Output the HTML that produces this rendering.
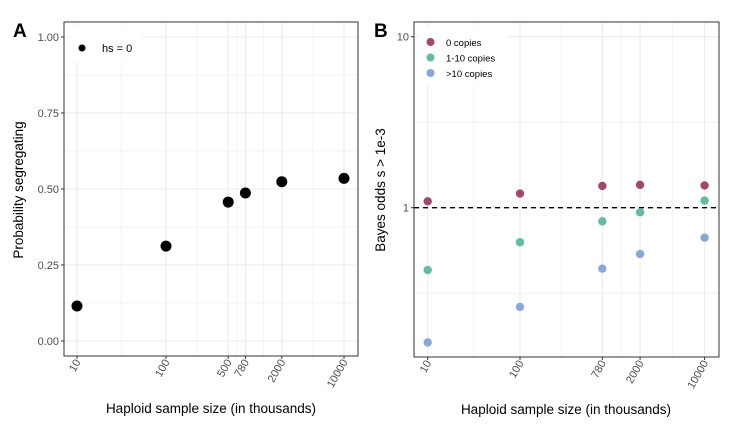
<!DOCTYPE html>
<html><head><meta charset="utf-8"><style>
body{margin:0;background:#fff;}
svg{display:block;font-family:"Liberation Sans",Arial,sans-serif;}
</style></head><body>
<svg id="chart" width="733" height="435" viewBox="0 0 733 435" xmlns="http://www.w3.org/2000/svg">
<g id="pa"></g>
<g id="pb"></g>
</svg>
<script>
const NS="http://www.w3.org/2000/svg";
// Panel A data
const catsA=[10,100,500,780,2000,10000];
const valsA=[0.115,0.312,0.457,0.487,0.524,0.535];
const yTicksA=[0,0.25,0.5,0.75,1];
const yTickLabelsA=["0.00","0.25","0.50","0.75","1.00"];
// Panel B data
const catsB=[10,100,780,2000,10000];
const zeroCopies=[1.09,1.21,1.34,1.36,1.35];
const oneToTen=[0.432,0.628,0.832,0.94,1.10];
const overTen=[0.163,0.263,0.44,0.536,0.668];
const seriesNamesB=["0 copies","1-10 copies",">10 copies"];
const yTicksB=[1,10];

function el(parent,tag,attrs,text){const e=document.createElementNS(NS,tag);for(const k in attrs)e.setAttribute(k,attrs[k]);if(text!==undefined)e.textContent=text;parent.appendChild(e);return e;}
function minorBreaks(vals){const out=[];for(let i=0;i<vals.length-1;i++)out.push((vals[i]+vals[i+1])/2);return out;}

// ---------- Panel A ----------
(function(){
const g=document.getElementById('pa');
const L=64,R=358,T=22,B=356;
const x=v=>77+(Math.log10(v)-1)*89;
const y=v=>341-v*304;
const bg=el(g,'rect',{x:L,y:T,width:R-L,height:B-T,fill:'#fff'});

const lx=catsA.map(c=>Math.log10(c));
minorBreaks(lx).forEach(m=>{const p=x(Math.pow(10,m));el(g,'line',{x1:p,x2:p,y1:T,y2:B,stroke:'#ebebeb','stroke-width':0.6});});
minorBreaks(yTicksA).forEach(m=>{el(g,'line',{x1:L,x2:R,y1:y(m),y2:y(m),stroke:'#ebebeb','stroke-width':0.6});});
catsA.forEach(c=>{el(g,'line',{x1:x(c),x2:x(c),y1:T,y2:B,stroke:'#ebebeb','stroke-width':1.1});});
yTicksA.forEach((t,i)=>{el(g,'line',{x1:L,x2:R,y1:y(t),y2:y(t),stroke:'#ebebeb','stroke-width':1.1});
 el(g,'line',{x1:L-3,x2:L,y1:y(t),y2:y(t),stroke:'#333','stroke-width':1});
 const tl=el(g,'text',{x:L-5,y:y(t)+4,'text-anchor':'end','font-size':11,fill:'#4d4d4d'},yTickLabelsA[i]);
 });
catsA.forEach(c=>{el(g,'line',{x1:x(c),x2:x(c),y1:B,y2:B+3,stroke:'#333','stroke-width':1});
 const tl=el(g,'text',{transform:`translate(${x(c)+4},${B+6}) rotate(-60)`,'text-anchor':'end','font-size':11,fill:'#4d4d4d'},String(c));
 });
// legend box
const lg=el(g,'g',{});
el(lg,'rect',{x:70,y:26,width:72,height:36,fill:'#fff'});
el(lg,'circle',{cx:82,cy:48,r:3.5,fill:'#000'});
el(lg,'text',{x:102,y:52,'font-size':11,fill:'#000'},'hs = 0');
catsA.forEach((c,i)=>{const p=el(g,'circle',{cx:x(c),cy:y(valsA[i]),r:5.5,fill:'#000'});
 });
el(g,'rect',{x:L,y:T,width:R-L,height:B-T,fill:'none',stroke:'#333','stroke-width':1});
const xt=el(g,'text',{x:211,y:413,'text-anchor':'middle','font-size':13.5,fill:'#000'},'Haploid sample size (in thousands)');

const yt=el(g,'text',{transform:'translate(23,190) rotate(-90)','text-anchor':'middle','font-size':13.5,fill:'#000'},'Probability segregating');

const tag=el(g,'text',{x:13,y:37,'font-size':19,'font-weight':'bold',fill:'#000'},'A');

})();

// ---------- Panel B ----------
(function(){
const g=document.getElementById('pb');
const L=414,R=719,T=22,B=357;
const x=v=>427.7+(Math.log10(v)-1)*92.3;
const y=v=>207.7-Math.log10(v)*171;
const colors=['#a3476f','#62bba5','#86a8d9'];
const series=[zeroCopies,oneToTen,overTen];
el(g,'rect',{x:L,y:T,width:R-L,height:B-T,fill:'#fff'});
const lx=catsB.map(c=>Math.log10(c));
minorBreaks(lx).forEach(m=>{const p=x(Math.pow(10,m));el(g,'line',{x1:p,x2:p,y1:T,y2:B,stroke:'#ebebeb','stroke-width':0.6});});
[Math.sqrt(10),1/Math.sqrt(10)].forEach(m=>{el(g,'line',{x1:L,x2:R,y1:y(m),y2:y(m),stroke:'#ebebeb','stroke-width':0.6});});
catsB.forEach(c=>{el(g,'line',{x1:x(c),x2:x(c),y1:T,y2:B,stroke:'#ebebeb','stroke-width':1.1});});
yTicksB.forEach(t=>{el(g,'line',{x1:L,x2:R,y1:y(t),y2:y(t),stroke:'#ebebeb','stroke-width':1.1});
 el(g,'line',{x1:L-3,x2:L,y1:y(t),y2:y(t),stroke:'#333','stroke-width':1});
 const tl=el(g,'text',{x:L-5,y:y(t)+4,'text-anchor':'end','font-size':11,fill:'#4d4d4d'},String(t));
 });
catsB.forEach(c=>{el(g,'line',{x1:x(c),x2:x(c),y1:B,y2:B+3,stroke:'#333','stroke-width':1});
 const tl=el(g,'text',{transform:`translate(${x(c)+4},${B+6}) rotate(-60)`,'text-anchor':'end','font-size':11,fill:'#4d4d4d'},String(c));
 });
const rl=el(g,'line',{x1:L,x2:R,y1:y(1),y2:y(1),stroke:'#000','stroke-width':1.3,'stroke-dasharray':'5,4'});

const lg=el(g,'g',{});
el(lg,'rect',{x:419,y:27,width:90,height:58,fill:'#fff'});
seriesNamesB.forEach((n,i)=>{el(lg,'circle',{cx:430.5,cy:42+i*15.5,r:4,fill:colors[i]});
 const t=el(lg,'text',{x:446,y:46+i*15.5,'font-size':9.5,fill:'#000'},n);
 });
series.forEach((s,si)=>{catsB.forEach((c,i)=>{const p=el(g,'circle',{cx:x(c),cy:y(s[i]),r:4.2,fill:colors[si]});
 });});
el(g,'rect',{x:L,y:T,width:R-L,height:B-T,fill:'none',stroke:'#333','stroke-width':1});
const xt=el(g,'text',{x:566,y:414,'text-anchor':'middle','font-size':13.5,fill:'#000'},'Haploid sample size (in thousands)');

const yt=el(g,'text',{transform:'translate(385,190) rotate(-90)','text-anchor':'middle','font-size':13.5,fill:'#000'},'Bayes odds s > 1e-3');

const tag=el(g,'text',{x:374,y:37,'font-size':19,'font-weight':'bold',fill:'#000'},'B');

})();
</script>
</body></html>
